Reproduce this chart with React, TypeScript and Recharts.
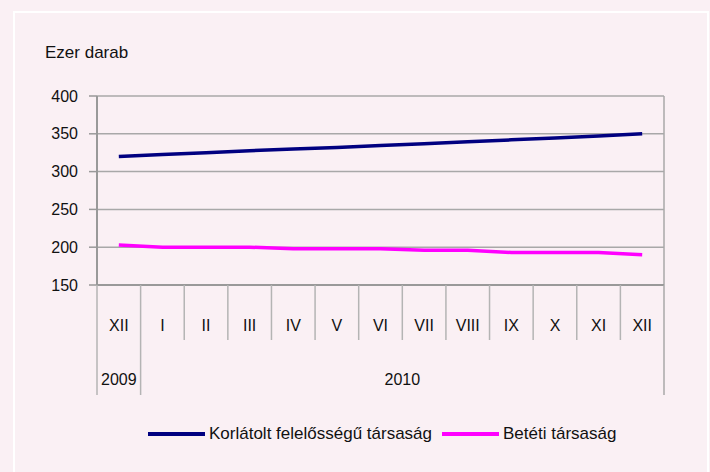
import { CartesianGrid, Legend, Line, LineChart, XAxis, YAxis } from "recharts";

const months = ["XII", "I", "II", "III", "IV", "V", "VI", "VII", "VIII", "IX", "X", "XI", "XII"];
const kft = [320, 322.5, 325, 327.5, 330, 332, 334.5, 337, 339.5, 342, 344.5, 347, 350];
const bt = [203, 200, 200, 200, 198, 198, 198, 196, 196, 193, 193, 193, 190];
const yTicks = [150, 200, 250, 300, 350, 400];

const data = months.map((m, i) => ({ month: m, kft: kft[i], bt: bt[i] }));

const W = 710;
const H = 472;
const LEFT = 97;
const RIGHT = 46;
const STEP = (W - LEFT - RIGHT) / months.length;
const BG = "#faf0f4";
const FONT = "'Liberation Sans', Arial, sans-serif";

function MonthTick(props: any) {
  const { x, y, payload, index } = props;
  const left = x - STEP / 2;
  const last = index === months.length - 1;
  return (
    <g>
      <line x1={left} y1={y} x2={left} y2={y + (index <= 1 ? 110 : 55)} stroke="#b4b4b4" strokeWidth={1.5} />
      {last && (
        <line x1={x + STEP / 2} y1={y} x2={x + STEP / 2} y2={y + 110} stroke="#a8a8a8" strokeWidth={1.5} />
      )}
      <text x={x} y={y + 46} textAnchor="middle" fontSize={16} fill="#111" fontFamily={FONT}>
        {payload.value}
      </text>
      {index === 0 && (
        <text x={x} y={y + 100} textAnchor="middle" fontSize={16} fill="#111" fontFamily={FONT}>
          2009
        </text>
      )}
      {index === 6 && (
        <text x={x + STEP / 2} y={y + 100} textAnchor="middle" fontSize={16} fill="#111" fontFamily={FONT}>
          2010
        </text>
      )}
    </g>
  );
}

function LegendBox() {
  const items = [
    { name: "Korlátolt felelősségű társaság", color: "#000080" },
    { name: "Betéti társaság", color: "#ff00ff" },
  ];
  return (
    <div style={{ height: 50, display: "flex", alignItems: "flex-end", paddingLeft: 148, boxSizing: "border-box" }}>
      <div style={{ display: "flex", alignItems: "center", height: 26 }}>
        {items.map((it) => (
          <div key={it.name} style={{ display: "flex", alignItems: "center", marginRight: 10 }}>
            <div style={{ width: 57, height: 4, background: it.color, marginRight: 4 }} />
            <span style={{ fontSize: 17, color: "#111", fontFamily: FONT }}>{it.name}</span>
          </div>
        ))}
      </div>
    </div>
  );
}

export default function App() {
  return (
    <div style={{ position: "absolute", left: 0, top: 0, width: W, height: H, background: BG, overflow: "hidden" }}>
      <div
        style={{
          position: "absolute",
          left: 13,
          top: 11,
          width: 692,
          height: 480,
          border: "2px solid #ffffff",
        }}
      />
      <div style={{ position: "absolute", left: 45, top: 43, fontSize: 17, color: "#111", fontFamily: FONT }}>
        Ezer darab
      </div>
      <div style={{ position: "absolute", left: 0, top: 0 }}>
        <LineChart width={W} height={H} data={data} margin={{ top: 96, right: RIGHT, left: 0, bottom: 25 }}>
          <CartesianGrid
            stroke="#a8a8a8"
            strokeWidth={1.5}
            verticalCoordinatesGenerator={({ offset }: any) => [offset.left + offset.width]}
          />
          <XAxis
            dataKey="month"
            interval={0}
            height={112}
            padding={{ left: STEP / 2, right: STEP / 2 }}
            tickLine={false}
            tickSize={0}
            tickMargin={0}
            axisLine={{ stroke: "#999", strokeWidth: 2 }}
            tick={<MonthTick />}
          />
          <YAxis
            domain={[150, 400]}
            ticks={yTicks}
            width={LEFT}
            tickSize={8}
            tickMargin={11}
            axisLine={{ stroke: "#999", strokeWidth: 2 }}
            tickLine={{ stroke: "#999", strokeWidth: 1.5 }}
            tick={{ fontSize: 16, fill: "#111", fontFamily: FONT }}
          />
          <Legend verticalAlign="bottom" wrapperStyle={{ left: 0, width: W }} content={<LegendBox />} />
          <Line
            dataKey="kft"
            name="Korlátolt felelősségű társaság"
            stroke="#000080"
            strokeWidth={3.5}
            dot={false}
            type="linear"
            isAnimationActive={false}
          />
          <Line
            dataKey="bt"
            name="Betéti társaság"
            stroke="#ff00ff"
            strokeWidth={3.5}
            dot={false}
            type="linear"
            isAnimationActive={false}
          />
        </LineChart>
      </div>
    </div>
  );
}
